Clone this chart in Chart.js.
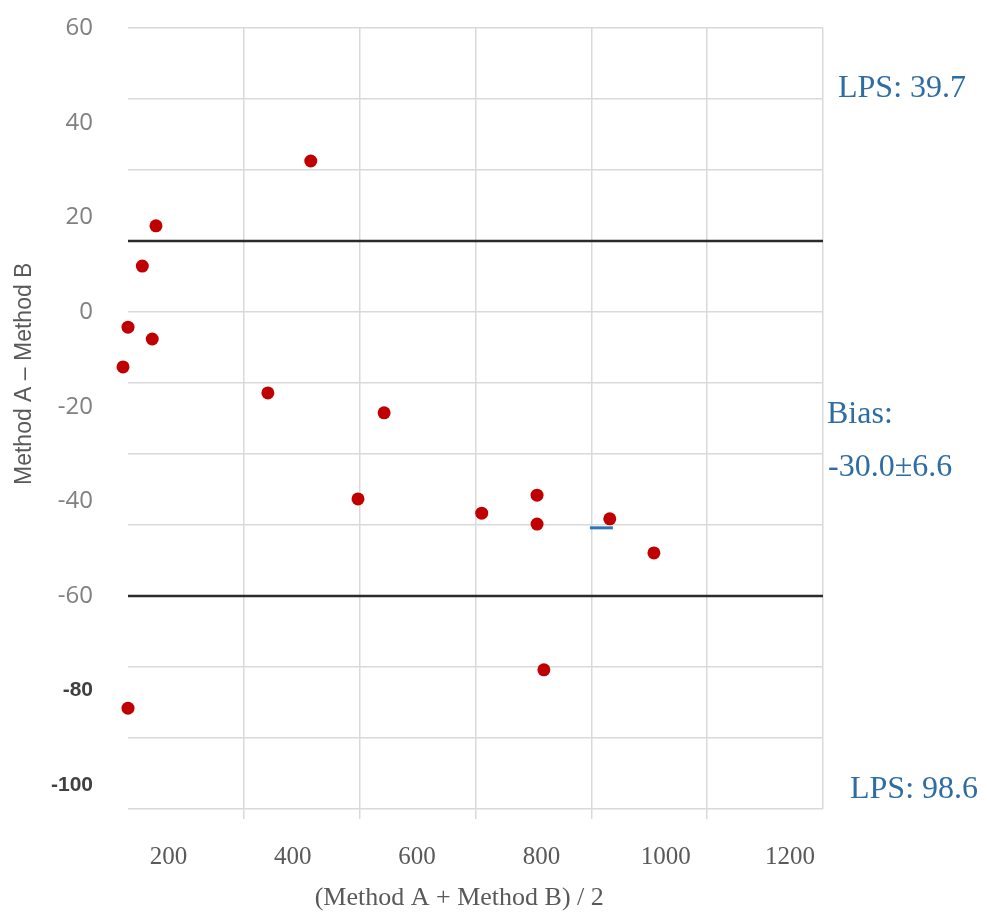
<!DOCTYPE html>
<html>
<head>
<meta charset="utf-8">
<script src="https://cdn.jsdelivr.net/npm/chart.js@4"></script>
<style>
    html, body { margin: 0; padding: 0; background: #fff; }
    #wrap { width: 987px; height: 920px; position: relative; }
</style>
</head>
<body>
<div id="wrap"><canvas id="baChart"></canvas></div>
<script>
// === BLAND-ALTMAN CHART ===

// mean of the two methods (x) and their difference (y), one entry per sample
const meanValues = [180, 158, 135, 174, 127, 360, 547, 429, 505, 704, 793, 793, 804, 910, 981, 135];
const diffValues = [18.2, 9.7, -3.2, -5.7, -11.6, -17.1, -21.3, 31.9, -39.5, -42.5, -38.7, -44.8, -75.6, -43.7, -50.9, -83.7];

const limitValues = [15, -60];      // upper / lower limit lines
const biasMarkX = [878, 915];       // short blue bias mark
const biasMarkY = -45.6;

const xTickLabels = [200, 400, 600, 800, 1000, 1200];
const yTickLabels = [60, 40, 20, 0, -20, -40, -60, -80, -100];
const sideNotes = ['LPS: 39.7', 'Bias:', '-30.0±6.6', 'LPS: 98.6'];

const X_MIN = 135, X_MAX = 1253;
const Y_MIN = -105, Y_MAX = 60;

const SERIF = '"Liberation Serif", "Times New Roman", serif';
const SANS = '"Liberation Sans", Arial, sans-serif';

// notes to the right of the plot (pixel positions on the canvas)
const notePos = [[838, 89], [827, 415], [828, 468], [850, 790]];
const sideNotesPlugin = {
    id: 'sideNotes',
    afterDraw(chart) {
        const ctx = chart.ctx;
        ctx.save();
        ctx.font = '32px ' + SERIF;
        ctx.fillStyle = '#2e6da4';
        ctx.textBaseline = 'middle';
        sideNotes.forEach((t, i) => ctx.fillText(t, notePos[i][0], notePos[i][1]));
        ctx.restore();
    }
};

const points = meanValues.map((x, i) => ({ x, y: diffValues[i] }));
const nb = n => '\u00a0'.repeat(n);
const noPad = s => { s.paddingTop = 0; s.paddingBottom = 0; s.paddingLeft = 0; s.paddingRight = 0; };

const datasets = [
    { data: points, backgroundColor: '#c00000', borderWidth: 0, pointRadius: 6.5, pointHoverRadius: 6.5, clip: false, order: 0 },
    { data: [{ x: biasMarkX[0], y: biasMarkY }, { x: biasMarkX[1], y: biasMarkY }], showLine: true, borderColor: '#2e75b6', borderWidth: 3, pointRadius: 0, order: 1 }
];
limitValues.forEach(v => {
    datasets.push({ data: [{ x: X_MIN, y: v }, { x: X_MAX, y: v }], showLine: true, borderColor: '#2b2b2b', borderWidth: 2.5, pointRadius: 0, order: 2 });
});

new Chart(document.getElementById('baChart'), {
    type: 'scatter',
    data: { datasets },
    options: {
        responsive: true, maintainAspectRatio: false, animation: false,
        layout: { padding: { top: 28, right: 164, bottom: 0, left: 0 } },
        plugins: { legend: { display: false }, tooltip: { enabled: false } },
        scales: {
            x: {
                type: 'linear', position: 'bottom', min: X_MIN, max: X_MAX, weight: 1,
                afterBuildTicks: s => { s.ticks = xTickLabels.map(v => ({ value: v })); },
                afterFit: s => { s.height = 111; noPad(s); },
                grid: { display: false, drawTicks: false }, border: { display: false },
                ticks: { color: '#595959', padding: 33, maxRotation: 0, autoSkip: false, callback: v => String(v), font: { family: SERIF, size: 25 } },
                title: { display: true, text: '(Method A + Method B) / 2' + nb(5), color: '#595959', font: { family: SERIF, size: 26 }, padding: { top: 0, bottom: 6 } }
            },
            xGrid: {
                type: 'linear', position: 'bottom', min: 0, max: 6, weight: 0,
                afterFit: s => { s.height = 0; noPad(s); },
                ticks: { display: false, stepSize: 1 }, border: { display: false },
                grid: {
                    color: c => c.index === 0 ? 'rgba(0,0,0,0)' : '#d9d9d9',
                    tickColor: c => c.index === 0 || c.index === 6 ? 'rgba(0,0,0,0)' : '#d9d9d9',
                    lineWidth: 1.5, tickLength: 10
                }
            },
            y: {
                type: 'linear', position: 'left', min: Y_MIN, max: Y_MAX, weight: 1,
                afterBuildTicks: s => { s.ticks = yTickLabels.map(v => ({ value: v })); },
                afterFit: s => { s.width = 128; noPad(s); },
                grid: { display: false, drawTicks: false }, border: { display: false },
                ticks: {
                    padding: 35, autoSkip: false, callback: v => String(v),
                    color: c => c.tick && c.tick.value <= -80 ? '#404040' : '#808080',
                    font: c => c.tick && c.tick.value <= -80 ? { family: SANS, size: 21, weight: 'bold' } : { family: '"Open Sans", ' + SANS, size: 24 }
                },
                title: { display: true, text: nb(14) + 'Method A – Method B', color: '#595959', font: { family: SANS, size: 23 }, padding: { top: 11, bottom: 0 } }
            },
            yGrid: {
                type: 'linear', position: 'left', min: Y_MIN, max: Y_MAX, weight: 0,
                afterFit: s => { s.width = 0; noPad(s); },
                ticks: { display: false, stepSize: 15 }, border: { display: false },
                grid: { color: '#d9d9d9', lineWidth: 1.5, drawTicks: false }
            }
        }
    },
    plugins: [sideNotesPlugin]
});
</script>
</body>
</html>
